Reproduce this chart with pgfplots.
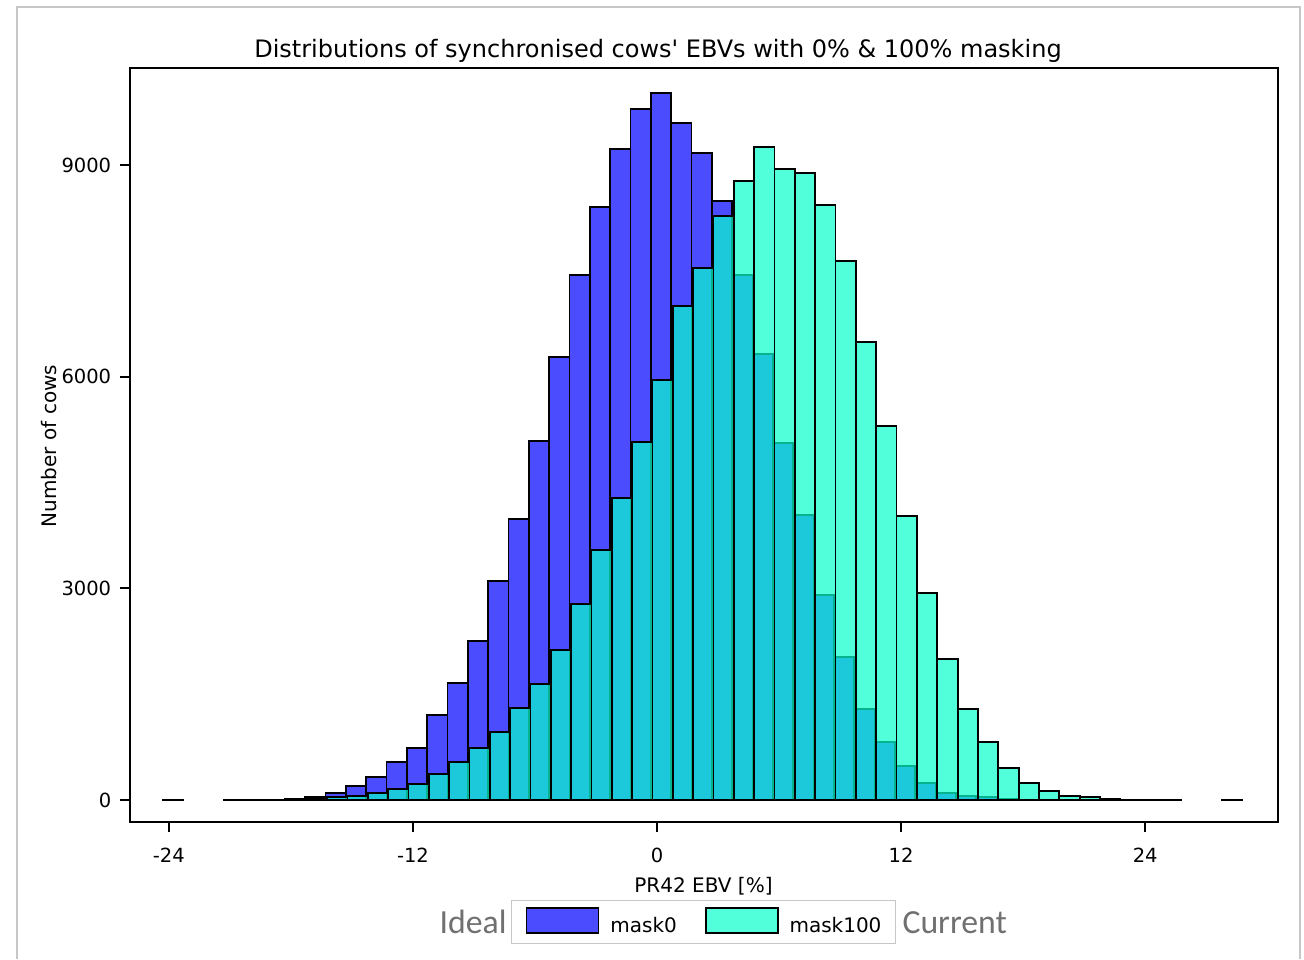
\documentclass[border=0pt]{standalone}
\usepackage{fontspec}
\setmainfont{DejaVu Sans}[Ligatures=TeXOff]
\newfontfamily\notefont{Carlito}
\usepackage{pgfplots}
\pgfplotsset{compat=1.18}
\definecolor{mzero}{RGB}{0,0,255}
\definecolor{mhund}{RGB}{8,255,204}
\definecolor{notegray}{RGB}{112,112,112}
\pgfplotsset{boxlegend/.style={legend image code/.code={\draw[##1] (0pt,-2.4pt) rectangle (28.8pt,7.6pt);}}}

% histogram counts, bin centre / count
\pgfplotstableread{
x y
-23.8 1
-20.8 1
-19.8 2
-18.8 3
-17.8 10
-16.8 38
-15.8 94
-14.8 203
-13.8 321
-12.8 543
-11.8 742
-10.8 1205
-9.8 1654
-8.8 2254
-7.8 3100
-6.8 3983
-5.8 5088
-4.8 6280
-3.8 7441
-2.8 8409
-1.8 9227
-0.8 9794
0.2 10025
1.2 9600
2.2 9170
3.2 8490
4.2 7441
5.2 6317
6.2 5064
7.2 4039
8.2 2906
9.2 2031
10.2 1285
11.2 827
12.2 486
13.2 236
14.2 94
15.2 57
16.2 38
17.2 12
18.2 5
}\maskzero

\pgfplotstableread{
x y
-16.72 15
-15.72 38
-14.72 57
-13.72 94
-12.72 151
-11.72 227
-10.72 369
-9.72 543
-8.72 742
-7.72 965
-6.72 1304
-5.72 1644
-4.72 2126
-3.72 2774
-2.72 3543
-1.72 4285
-0.72 5070
0.28 5953
1.28 7006
2.28 7536
3.28 8277
4.28 8773
5.28 9251
6.28 8943
7.28 8882
8.28 8433
9.28 7639
10.28 6496
11.28 5305
12.28 4025
13.28 2929
14.28 1994
15.28 1285
16.28 827
17.28 458
18.28 236
19.28 128
20.28 61
21.28 38
22.28 12
23.28 5
24.28 3
25.28 1
28.28 1
}\maskhundred

\begin{document}
\begin{tikzpicture}
\useasboundingbox (-52pt,-54.8pt) rectangle (469.6pt,328.8pt);
\draw[black!22, line width=0.8pt] (-45.2pt,-54.8pt) -- (-45.2pt,326pt) -- (468pt,326pt) -- (468pt,-54.8pt);
\begin{axis}[
    at={(0,0)}, anchor=south west,
    scale only axis,
    width=459.2pt, height=301.6pt,
    xmin=-25.91, xmax=30.53,
    ymin=-312, ymax=10375,
    xtick={-24,-12,0,12,24},
    ytick={0,3000,6000,9000},
    tick align=outside,
    xtick pos=bottom, ytick pos=left,
    major tick length=4pt,
    axis line style={line width=0.8pt},
    every tick/.style={black, line width=0.8pt},
    scaled y ticks=false,
    /pgf/number format/1000 sep={},
    /pgf/number format/assume math mode=true,
    tick label style={font=\fontsize{7.8}{9.4}\selectfont},
    xticklabel style={yshift=-2.8pt},
    legend columns=2,
    legend style={at={(0.4996,-0.1326)}, anchor=center,
        draw=black!22, line width=0.6pt,
        inner xsep=5.6pt, inner ysep=2.8pt,
        font=\fontsize{8}{9.6}\selectfont,
        nodes={inner sep=0pt},
        column sep=4.4pt,
        /tikz/every even column/.append style={column sep=11.2pt}},
]
\addplot[ybar, bar width=1, bar shift=0pt, fill=mzero, fill opacity=0.7,
    draw=black, line width=0.7pt, boxlegend]
    table[x=x, y=y] {\maskzero};
\addlegendentry{mask0}
\addplot[ybar, bar width=1, bar shift=0pt, fill=mhund, fill opacity=0.7,
    draw=black, line width=0.7pt, boxlegend]
    table[x=x, y=y] {\maskhundred};
\addlegendentry{mask100}
\end{axis}
\node[anchor=base, font=\fontsize{9.6}{11.5}\selectfont] at (211.2pt,305.6pt)
    {Distributions of synchronised cows' EBVs with 0\% \& 100\% masking};
\node[rotate=90, font=\fontsize{8}{9.6}\selectfont] at (-32.4pt,150.4pt) {Number of cows};
\node[anchor=base, font=\fontsize{8}{9.6}\selectfont] at (229.4pt,-28pt) {PR42 EBV [\%]};
\node[anchor=base east, inner sep=0pt, text=notegray, font=\notefont\fontsize{13.5}{16}\selectfont] at (150.8pt,-44.4pt) {Ideal};
\node[anchor=base west, inner sep=0pt, text=notegray, font=\notefont\fontsize{13.5}{16}\selectfont] at (308.8pt,-44.4pt) {Current};
\end{tikzpicture}
\end{document}
